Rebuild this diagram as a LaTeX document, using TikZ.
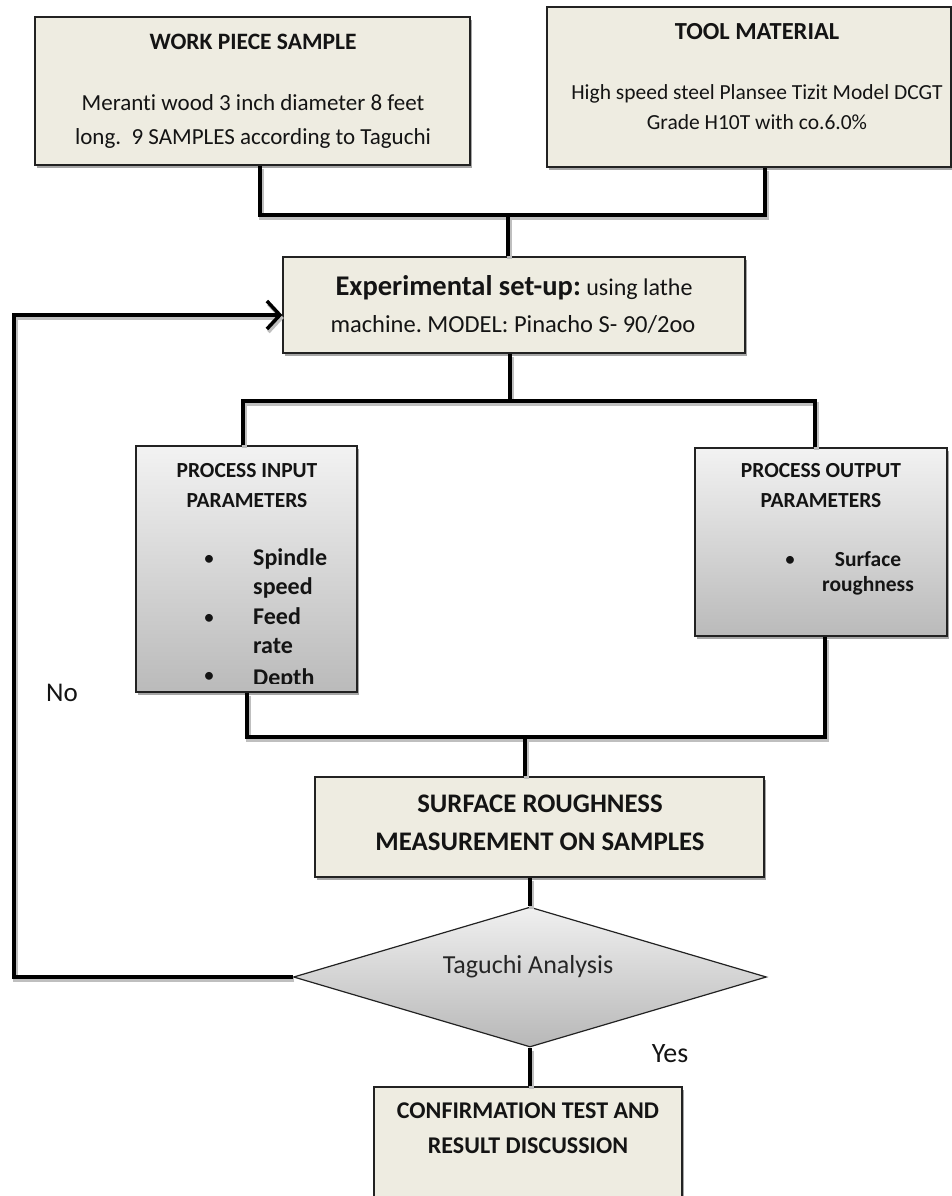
\documentclass[tikz,border=0pt]{standalone}
\usepackage{fontspec}
\setmainfont{Carlito}[Ligatures=NoCommon]
\usetikzlibrary{arrows.meta,shapes.geometric,shadows,calc}
\definecolor{beige}{HTML}{EEECE1}
\definecolor{bordc}{HTML}{222222}
\definecolor{txt}{HTML}{141414}
\newcommand{\fs}[1]{\fontsize{#1}{#1}\selectfont}
\frenchspacing
\begin{document}
\begin{tikzpicture}[x=1pt,y=-1pt,
  box/.style={rectangle, draw=bordc, line width=1.4pt, fill=beige, inner sep=0pt,
    drop shadow={shadow xshift=2pt, shadow yshift=-3pt, fill=black, opacity=0.35}},
  gbox/.style={box, top color=black!5, bottom color=black!27},
  conn/.style={line width=4.5pt, black, line join=miter,
    preaction={draw=black!25, line width=4.5pt, transform canvas={xshift=1.5pt, yshift=-3pt}}},
  t/.style={inner sep=0pt, text=txt, anchor=base},
  tl/.style={t, anchor=base west},
]
\clip (0,0) rectangle (952,1196);
\fill[white] (0,0) rectangle (952,1196);

% boxes
\node[box, minimum width=435, minimum height=148] (wp) at (252.5,91) {};
\node[box, minimum width=404, minimum height=160] (tool) at (749,87) {};
\node[box, minimum width=462, minimum height=96] (exp) at (514,305) {};
\node[gbox, minimum width=221, minimum height=246] (pin) at (246.5,569) {};
\node[gbox, minimum width=252, minimum height=188] (pout) at (821,542) {};
\node[box, minimum width=449, minimum height=100] (sr) at (539.5,827) {};
\node[diamond, draw=bordc, line width=1.2pt, top color=black!6, bottom color=black!28,
  minimum width=473, minimum height=140, inner sep=0pt] (dia) at (530,977) {};
\node[box, minimum width=308, minimum height=130] (conf) at (528,1152) {};

% texts
\node[t, font=\fs{23.5}\bfseries] (wpt) at (253,50) {WORK PIECE SAMPLE};
\node[t, font=\fs{23}] (wp1) at (253,111) {Meranti wood 3 inch diameter 8 feet};
\node[t, font=\fs{23}] (wp2) at (253,144) {long.\ \ 9 SAMPLES according to Taguchi};

\node[t, font=\fs{24.5}\bfseries] (toolt) at (757,40) {TOOL MATERIAL};
\node[t, font=\fs{21.5}] (tool1) at (757,100) {High speed steel Plansee Tizit Model DCGT};
\node[t, font=\fs{21.5}] (tool2) at (757,129) {Grade H10T with co.6.0\%};

\node[t, font=\fs{24}] (exp1) at (514,295) {{\fs{28.5}\bfseries Experimental set-up:} using lathe};
\node[t, font=\fs{24.5}] (exp2) at (513,332) {machine. MODEL: Pinacho S- 90/2oo};

\node[t, font=\fs{21.5}\bfseries] (pint1) at (247,477) {PROCESS INPUT};
\node[t, font=\fs{21.5}\bfseries] (pint2) at (247,507) {PARAMETERS};
\begin{scope}
\clip (pin.north west) rectangle (pin.east |- 0,683);
\node[t, font=\fs{22}] (b1) at (209,565) {•};
\node[t, font=\fs{22}] (b2) at (209,624) {•};
\node[t, font=\fs{22}] (b3) at (209,682) {•};
\node[tl, font=\fs{24}\bfseries] (i1) at (253,565) {Spindle};
\node[tl, font=\fs{24}\bfseries] (i2) at (253,594) {speed};
\node[tl, font=\fs{24}\bfseries] (i3) at (253,624) {Feed};
\node[tl, font=\fs{24}\bfseries] (i4) at (253,653) {rate};
\node[tl, font=\fs{24}\bfseries] (i5) at (253,685) {Depth};
\end{scope}

\node[t, font=\fs{21.5}\bfseries] (poutt1) at (821,477) {PROCESS OUTPUT};
\node[t, font=\fs{21.5}\bfseries] (poutt2) at (821,507) {PARAMETERS};
\node[t, font=\fs{22}] (b4) at (790,566) {•};
\node[t, font=\fs{21.5}\bfseries] (o1) at (868,566) {Surface};
\node[t, font=\fs{21.5}\bfseries] (o2) at (868,591) {roughness};

\node[t, font=\fs{26.8}\bfseries] (sr1) at (540,812) {SURFACE ROUGHNESS};
\node[t, font=\fs{26.8}\bfseries] (sr2) at (540,850) {MEASUREMENT ON SAMPLES};

\node[t, font=\fs{26}, text=black!85] (diat) at (528,973) {Taguchi Analysis};

\node[t, font=\fs{24}\bfseries] (conf1) at (528,1118) {CONFIRMATION TEST AND};
\node[t, font=\fs{24}\bfseries] (conf2) at (528,1153) {RESULT DISCUSSION};

\node[t, font=\fs{27}] (no) at (62,701) {No};
\node[t, font=\fs{28}] (yes) at (670,1062) {Yes};

% junction coordinates
\coordinate (j1) at (260,215);
\coordinate (j2) at (765,215);
\coordinate (j3) at (508,215);
\coordinate (k1) at (243,401);
\coordinate (k2) at (815,401);
\coordinate (k3) at (510,401);
\coordinate (m1) at (247,737);
\coordinate (m2) at (825,737);
\coordinate (m3) at (525,737);
\coordinate (lp) at (14,315);

% connectors
\draw[conn] (wp.south -| j1) -- (j1) -- (j2) -- (tool.south -| j2);
\draw[conn] (j3) -- (exp.north -| j3);
\draw[conn] (exp.south -| k3) -- (k3);
\draw[conn] (pin.north -| k1) -- (k1) -- (k2) -- (pout.north -| k2);
\draw[conn] (pin.south -| m1) -- (m1) -- (m2) -- (pout.south -| m2);
\draw[conn] (m3) -- (sr.north -| m3);
\draw[conn] (sr.south -| dia.north) -- (dia.north);
\draw[conn] (dia.south) -- (conf.north -| dia.south);
\draw[conn, -{Straight Barb[length=13pt, width=28pt, line width=3.5pt]}]
  (dia.west) -| (lp) -- (exp.west |- lp);
\end{tikzpicture}
\end{document}
